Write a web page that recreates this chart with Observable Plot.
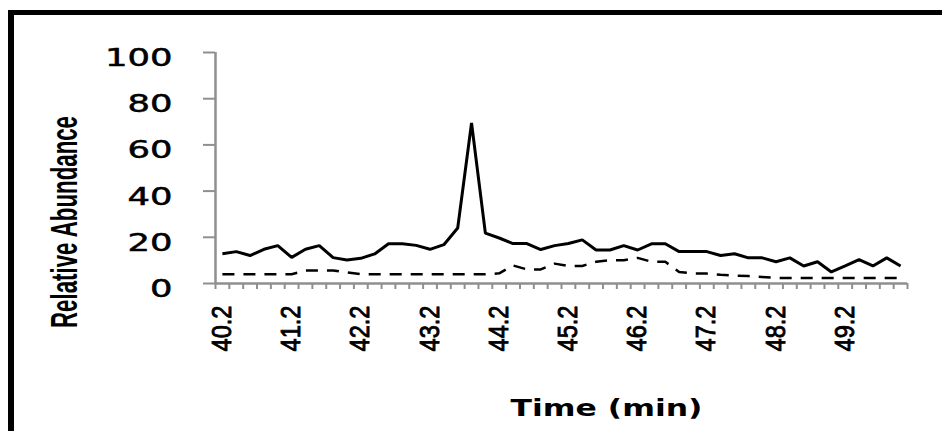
<!DOCTYPE html>
<html>
<head>
<meta charset="utf-8">
<script src="https://cdn.jsdelivr.net/npm/d3@7"></script>
<script src="https://cdn.jsdelivr.net/npm/@observablehq/plot@0.6"></script>
<style>
  html, body { margin: 0; padding: 0; background: #fff; }
  #wrap { position: relative; width: 942px; height: 431px; overflow: hidden; }
  #wrap svg { position: absolute; left: 0; top: 0; }
  #frame { position: absolute; left: 8px; top: 10px; right: -20px; bottom: -20px;
           border-top: 5px solid #000; border-left: 6px solid #000; pointer-events: none; }
</style>
</head>
<body>
<div id="wrap"><div id="frame"></div></div>
<script>
// Retention time categories (min)
const times = [40.2,40.4,40.6,40.8,41.0,41.2,41.4,41.6,41.8,42.0,
               42.2,42.4,42.6,42.8,43.0,43.2,43.4,43.6,43.8,44.0,
               44.2,44.4,44.6,44.8,45.0,45.2,45.4,45.6,45.8,46.0,
               46.2,46.4,46.6,46.8,47.0,47.2,47.4,47.6,47.8,48.0,
               48.2,48.4,48.6,48.8,49.0,49.2,49.4,49.6,49.8,50.0];
// Solid series (relative abundance)
const solid = [12.9,13.8,12.1,14.8,16.4,11.3,14.8,16.4,11.2,10.2,
               10.9,12.8,17.2,17.2,16.5,14.8,16.8,24.0,69.5,21.8,
               19.7,17.3,17.3,14.7,16.4,17.3,18.9,14.5,14.5,16.4,
               14.5,17.2,17.2,13.8,13.8,13.8,12.1,12.9,11.1,11.1,
               9.4,11.1,7.6,9.4,5.0,7.6,10.3,7.6,11.1,7.6];
// Dashed series (relative abundance)
const dashed = [4.0,4.0,4.0,4.0,4.0,4.0,5.6,5.6,5.6,4.8,
                4.0,4.0,4.0,4.0,4.0,4.0,4.0,4.0,4.0,4.0,
                4.4,7.8,6.1,6.1,8.6,7.6,7.6,9.4,10.1,10.1,
                11.1,9.4,9.4,5.0,4.3,4.3,3.8,3.4,3.2,2.8,
                2.4,2.4,2.4,2.4,2.4,2.4,2.4,2.4,2.4,2.4];
const yTicks = [0, 20, 40, 60, 80, 100];
const xTickLabels = ["40.2","41.2","42.2","43.2","44.2","45.2","46.2","47.2","48.2","49.2"];
const yTitle = "Relative Abundance";
const xTitle = "Time (min)";

const half = (times[1] - times[0]) / 2;
const xDomain = [times[0] - half, times[times.length - 1] + half];
const boundaries = times.map(t => t - half).concat([times[times.length - 1] + half]);
const labelValues = xTickLabels.map(Number);
const data = times.map((t, i) => ({t, solid: solid[i], dashed: dashed[i]}));

const gray = "#8f8f8f";

const chart = Plot.plot({
  width: 942,
  height: 431,
  marginLeft: 215,
  marginRight: 35,
  marginTop: 52,
  marginBottom: 148,
  x: {domain: xDomain, axis: null},
  y: {domain: [0, 100], axis: null},
  style: {background: "transparent", fontFamily: "DejaVu Sans", color: "#000"},
  marks: [
    Plot.axisX({ticks: boundaries, tickSize: 6, tickFormat: () => "", stroke: gray, strokeWidth: 2, label: null}),
    Plot.axisX({ticks: labelValues, tickSize: 0, tickRotate: -90, tickPadding: 22,
                tickFormat: (d, i) => xTickLabels[i], label: null, fill: "#000",
                fontSize: 27, fontFamily: "Liberation Sans"}),
    Plot.axisY({ticks: yTicks, tickSize: 12, tickPadding: 31, stroke: gray, strokeWidth: 2,
                label: null, fill: "#000", fontSize: 24, fontFamily: "DejaVu Sans"}),
    Plot.ruleY([0], {stroke: gray, strokeWidth: 2.5}),
    Plot.ruleX([xDomain[0]], {y1: yTicks[0], y2: yTicks[yTicks.length - 1], stroke: gray, strokeWidth: 2.5}),
    Plot.lineY(data, {x: "t", y: "dashed", stroke: "#000", strokeWidth: 2.5,
                      strokeDasharray: "12,9", strokeLinejoin: "miter", strokeLinecap: "butt"}),
    Plot.lineY(data, {x: "t", y: "solid", stroke: "#000", strokeWidth: 3,
                      strokeLinejoin: "miter", strokeLinecap: "butt"}),
    Plot.text([yTitle], {text: d => d, frameAnchor: "left", dx: -150, dy: 54, rotate: -90,
                         textAnchor: "middle", fill: "#000"}),
    Plot.text([xTitle], {text: d => d, frameAnchor: "bottom", dx: 45, dy: 132,
                         textAnchor: "middle", fill: "#000"})
  ]
});

document.getElementById("wrap").insertBefore(chart, document.getElementById("frame"));

d3.select(chart).selectAll("text").each(function () {
  const s = d3.select(this);
  const t = this.textContent.trim();
  if (t === yTitle) {
    const tr = s.attr("transform") || "";
    s.attr("font-family", "Liberation Sans").attr("font-weight", "bold").attr("font-size", 22)
     .attr("textLength", 212).attr("lengthAdjust", "spacingAndGlyphs")
     .attr("transform", tr + " scale(1,1.7)");
  } else if (t === xTitle) {
    s.attr("font-family", "DejaVu Sans").attr("font-weight", "bold").attr("font-size", 23)
     .attr("textLength", 192).attr("lengthAdjust", "spacingAndGlyphs");
  } else if (xTickLabels.includes(t)) {
    s.attr("font-family", "Liberation Sans").attr("font-size", 27)
     .attr("stroke", "#000").attr("stroke-width", 0.9)
     .attr("textLength", 46).attr("lengthAdjust", "spacingAndGlyphs");
  } else if (/^\d+$/.test(t)) {
    s.attr("font-family", "DejaVu Sans").attr("font-size", 24).attr("dy", "0.24em")
     .attr("stroke", "#000").attr("stroke-width", 0.5)
     .attr("textLength", t.length * 22.5).attr("lengthAdjust", "spacingAndGlyphs");
  }
});
</script>
</body>
</html>
